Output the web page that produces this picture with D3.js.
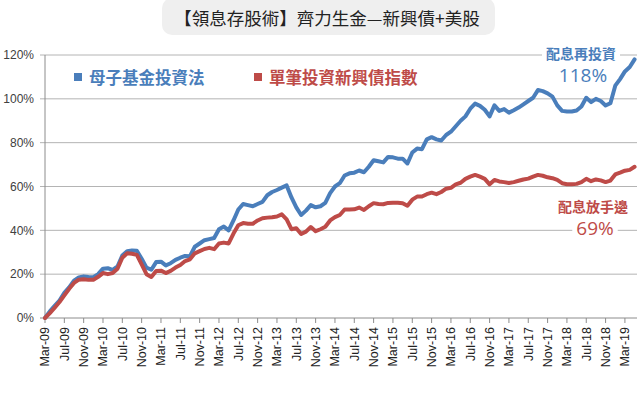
<!DOCTYPE html>
<html>
<head>
<meta charset="utf-8">
<script src="https://cdn.jsdelivr.net/npm/d3@7"></script>
<style>
  body { margin: 0; background: #fff; }
  svg { display: block; font-family: "Liberation Sans", Arial, sans-serif; }
</style>
</head>
<body>
<svg width="640" height="393"></svg>
<script>
"use strict";

// monthly cumulative return in %, Mar-09 .. May-19
const fundOfFunds = [
  0, 3, 5.5, 8, 11.5, 14, 17, 18.5, 19, 18.7, 18.6, 20,
  22.5, 22.7, 22, 23.5, 28.5, 30.5, 30.8, 30.7, 27, 23, 22, 25.5,
  25.7, 24, 25, 26.5, 27.5, 28.3, 28.2, 32.5, 34, 35.5, 36, 36.5,
  40.5, 41.7, 40, 44.5, 49.5, 52, 51.5, 51, 52, 53, 56, 57.5,
  58.4, 59.5, 60.5, 55, 50.5, 47, 49, 51.5, 50.5, 51, 52.5, 57,
  60, 61.5, 65, 66, 66.3, 67.3, 66.5, 69, 72, 71.5, 71, 73.5,
  73.3, 72.7, 72.7, 70.5, 75.5, 77.3, 77, 81.5, 82.5, 81.5, 81, 83.5,
  85, 87.5, 90, 92, 95.5, 97.8, 96.8, 95, 92, 97, 94.5, 95.3,
  93.7, 94.8, 96, 97.5, 99, 100.5, 104, 103.5, 102.5, 101, 97, 94.5,
  94.2, 94.2, 94.7, 96.5, 100.5, 98.5, 100, 99, 97, 98, 106, 109,
  112.5, 114.5, 118
];

const emBondIndex = [
  0, 2.2, 4.7, 7.3, 10.3, 13.3, 16, 17.5, 17.7, 17.4, 17.4, 18.8,
  20.5, 20, 20.5, 22.5, 27.5, 29.5, 29.3, 28.8, 24.5, 20, 18.7, 21.4,
  21.6, 20.5, 21.5, 23, 24.2, 26, 26.8, 29.5, 30.5, 31.5, 32, 31.4,
  34, 34.4, 34, 38.5, 42.3, 43.3, 43, 43, 44.5, 45.5, 45.8, 46,
  46.3, 47.3, 45, 40.5, 41, 38.3, 39.4, 41.5, 39.6, 40.5, 41.6, 44.5,
  46, 47, 49.5, 49.5, 49.6, 50.4, 49.3, 51, 52.4, 52, 51.9, 52.5,
  52.6, 52.6, 52.4, 51.2, 54, 55.4, 55.4, 56.5, 57.2, 56.5, 57.5, 59,
  59.4, 61, 61.7, 63.5, 64.5, 65.3, 64.5, 63.5, 61, 63, 62.3, 62,
  61.6, 62, 62.6, 63.2, 63.6, 64.5, 65.3, 64.9, 64.2, 63.8, 63, 61.5,
  61, 61, 61.2, 62, 63.5, 62.4, 63.2, 62.8, 62, 62.7, 65.5, 66.3,
  67.2, 67.6, 69
];

// one label every 4 months
const tickLabels = [
  "Mar-09", "Jul-09", "Nov-09", "Mar-10", "Jul-10", "Nov-10", "Mar-11", "Jul-11",
  "Nov-11", "Mar-12", "Jul-12", "Nov-12", "Mar-13", "Jul-13", "Nov-13", "Mar-14",
  "Jul-14", "Nov-14", "Mar-15", "Jul-15", "Nov-15", "Mar-16", "Jul-16", "Nov-16",
  "Mar-17", "Jul-17", "Nov-17", "Mar-18", "Jul-18", "Nov-18", "Mar-19"
];
const yTicks = [0, 20, 40, 60, 80, 100, 120];

const seriesNames = ["母子基金投資法", "單筆投資新興債指數"];
const colors = ["#4a7ebb", "#be4b48"];

const svg = d3.select("svg");
const margin = {top: 55, left: 45, right: 3, bottom: 75};
const width = +svg.attr("width"), height = +svg.attr("height");

const x = d3.scaleLinear()
  .domain([0, 122.5])
  .range([margin.left, width - margin.right]);
const y = d3.scaleLinear()
  .domain([0, 120])
  .range([height - margin.bottom, margin.top]);

// title
svg.append("rect")
  .attr("x", 162).attr("y", -2).attr("width", 333).attr("height", 37)
  .attr("rx", 10).attr("fill", "#efefef");
svg.append("text")
  .attr("x", 327).attr("y", 25)
  .attr("text-anchor", "middle")
  .attr("font-family", "'Noto Sans CJK TC', sans-serif")
  .attr("font-size", 17.5)
  .attr("fill", "#222")
  .text("【領息存股術】齊力生金—新興債+美股");

// gridlines + y labels
svg.append("g")
  .selectAll("line")
  .data(yTicks.slice(1))
  .join("line")
    .attr("x1", margin.left - 5).attr("x2", width - margin.right)
    .attr("y1", d => y(d)).attr("y2", d => y(d))
    .attr("stroke", "#b4b4b4").attr("stroke-width", 1);

svg.append("g")
  .selectAll("text")
  .data(yTicks)
  .join("text")
    .attr("x", margin.left - 11)
    .attr("y", d => y(d))
    .attr("dy", "0.35em")
    .attr("text-anchor", "end")
    .attr("font-size", 12)
    .attr("fill", "#404040")
    .text(d => d + "%");

// axes lines
svg.append("line")
  .attr("x1", x(0)).attr("x2", x(0))
  .attr("y1", y(120)).attr("y2", y(0))
  .attr("stroke", "#8c8c8c");
svg.append("line")
  .attr("x1", x(0) - 5).attr("x2", width - margin.right)
  .attr("y1", y(0)).attr("y2", y(0))
  .attr("stroke", "#8c8c8c");

const xt = svg.append("g")
  .selectAll("g")
  .data(tickLabels)
  .join("g")
    .attr("transform", (d, i) => `translate(${x(i * 4)},${y(0)})`);
xt.append("line").attr("y2", 5).attr("stroke", "#8c8c8c");
xt.append("text")
  .attr("transform", "translate(0,9) rotate(-90)")
  .attr("text-anchor", "end")
  .attr("dy", "0.35em")
  .attr("font-size", 12.5)
  .attr("fill", "#222")
  .text(d => d);

// lines
const line = d3.line()
  .x((d, i) => x(i))
  .y(d => y(d));

[fundOfFunds, emBondIndex].forEach((s, k) => {
  svg.append("path")
    .datum(s)
    .attr("fill", "none")
    .attr("stroke", colors[k])
    .attr("stroke-width", 4)
    .attr("stroke-linejoin", "round")
    .attr("stroke-linecap", "round")
    .attr("d", line);
});

// legend
const legendX = [74, 254];
seriesNames.forEach((name, k) => {
  svg.append("rect")
    .attr("x", legendX[k]).attr("y", 73).attr("width", 8).attr("height", 8)
    .attr("fill", colors[k]);
  svg.append("text")
    .attr("x", legendX[k] + 15).attr("y", 78)
    .attr("dy", "0.35em")
    .attr("font-family", "'Noto Sans CJK TC', sans-serif")
    .attr("font-weight", "bold")
    .attr("font-size", 16.5)
    .attr("fill", colors[k])
    .text(name);
});

// end annotations
const notes = [
  {label: "配息再投資", value: fundOfFunds[fundOfFunds.length - 1], cx: 581, ly: 54, vy: 75, color: colors[0]},
  {label: "配息放手邊", value: emBondIndex[emBondIndex.length - 1], cx: 593, ly: 207, vy: 228, color: colors[1]}
];
notes.forEach(n => {
  const g = svg.append("g");
  const t1 = g.append("text")
    .attr("x", n.cx).attr("y", n.ly).attr("dy", "0.35em")
    .attr("text-anchor", "middle")
    .attr("font-family", "'Noto Sans CJK TC', sans-serif")
    .attr("font-weight", "bold")
    .attr("font-size", 14)
    .attr("fill", n.color)
    .text(n.label);
  const t2 = g.append("text")
    .attr("x", n.cx + 2).attr("y", n.vy).attr("dy", "0.35em")
    .attr("text-anchor", "middle")
    .attr("font-family", "'Open Sans', sans-serif")
    .attr("font-size", 19)
    .attr("fill", n.color)
    .text(Math.round(n.value) + "%");
  [t1, t2].forEach(t => {
    const b = t.node().getBBox();
    g.insert("rect", "text")
      .attr("x", b.x - 4).attr("y", b.y + 4)
      .attr("width", b.width + 8).attr("height", b.height - 8)
      .attr("fill", "#fff");
  });
});
</script>
</body>
</html>
